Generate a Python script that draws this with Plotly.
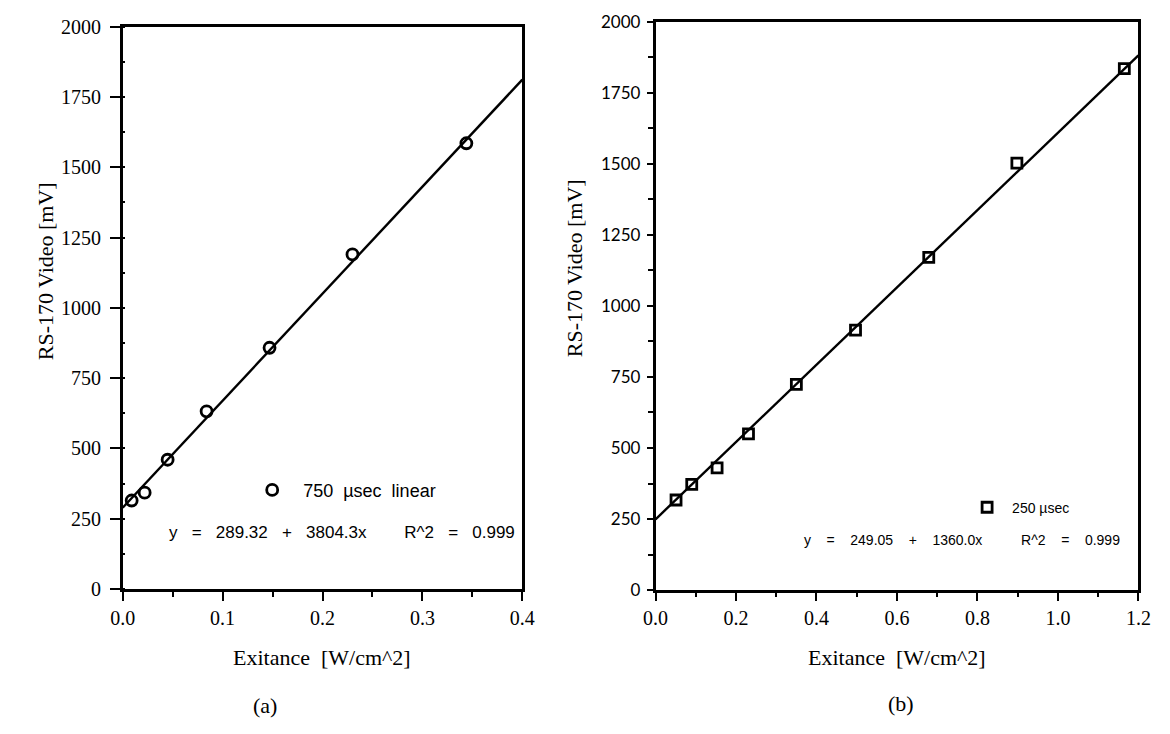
import plotly.graph_objects as go

W, H = 1170, 734

# ---------------- data ----------------
a_x = [0.009, 0.022, 0.045, 0.084, 0.147, 0.230, 0.344]
a_y = [315, 343, 460, 632, 858, 1190, 1585]
a_fit = (289.32, 3804.3)
a_xrange = [0.0, 0.4]
a_legend = "750  µsec  linear"
a_eq = "y   =   289.32   +   3804.3x        R^2   =   0.999"

b_x = [0.051, 0.090, 0.153, 0.231, 0.350, 0.497, 0.679, 0.898, 1.165]
b_y = [317, 372, 430, 550, 724, 915, 1171, 1502, 1835]
b_fit = (249.05, 1360.0)
b_xrange = [0.0, 1.2]
b_legend = "250 µsec"
b_eq = "y    =    249.05    +    1360.0x          R^2    =    0.999"

y_range = [0, 2000]
x_title = "Exitance  [W/cm^2]"
y_title = "RS-170 Video [mV]"
captions = ["(a)", "(b)"]


def px(x):
    return x / W


def py(y):
    return 1 - y / H


SERIF = "Liberation Serif, Times New Roman, serif"
SANS = "Liberation Sans, Arial, sans-serif"

fig = go.Figure()

# panel a
fig.add_trace(go.Scatter(
    x=a_xrange, y=[a_fit[0] + a_fit[1] * v for v in a_xrange],
    mode="lines", line=dict(color="black", width=2.4),
    showlegend=False, xaxis="x", yaxis="y"))
fig.add_trace(go.Scatter(
    x=a_x, y=a_y, mode="markers", name=a_legend,
    marker=dict(symbol="circle-open", size=11, color="black", line=dict(width=2.8)),
    xaxis="x", yaxis="y", legend="legend"))

# panel b
fig.add_trace(go.Scatter(
    x=b_xrange, y=[b_fit[0] + b_fit[1] * v for v in b_xrange],
    mode="lines", line=dict(color="black", width=2.4),
    showlegend=False, xaxis="x2", yaxis="y2"))
fig.add_trace(go.Scatter(
    x=b_x, y=b_y, mode="markers", name=b_legend,
    marker=dict(symbol="square-open", size=10, color="black", line=dict(width=2.8)),
    xaxis="x2", yaxis="y2", legend="legend2"))

axis_common = dict(showline=True, linecolor="black", linewidth=2.5, mirror=True,
                   showgrid=False, zeroline=False, ticks="outside", tickcolor="black",
                   tickwidth=2, ticklen=8)

fig.update_layout(
    width=W, height=H,
    margin=dict(l=0, r=0, t=0, b=0),
    paper_bgcolor="white", plot_bgcolor="white",
    xaxis=dict(axis_common, domain=[px(113), px(521)], range=a_xrange, dtick=0.1,
               tickformat=".1f", anchor="y", ticklen=9,
               tickfont=dict(family=SERIF, size=20, color="black"),
               minor=dict(dtick=0.05, ticks="outside", ticklen=5, tickwidth=2, tickcolor="black")),
    yaxis=dict(axis_common, domain=[py(596), py(16)], range=y_range, dtick=250, anchor="x",
               ticklen=10, ticklabelstandoff=5,
               tickfont=dict(family=SERIF, size=20, color="black"),
               minor=dict(dtick=125, ticks="inside", ticklen=3, tickwidth=2, tickcolor="black")),
    xaxis2=dict(axis_common, domain=[px(657), px(1150)], range=b_xrange, dtick=0.2,
                tickformat=".1f", anchor="y2",
                tickfont=dict(family=SERIF, size=20, color="black"),
                minor=dict(dtick=0.1, ticks="outside", ticklen=4, tickwidth=2, tickcolor="black")),
    yaxis2=dict(axis_common, domain=[py(597), py(11)], range=y_range, dtick=250, anchor="x2",
                ticklen=6, ticklabelstandoff=3,
                tickfont=dict(family="Lato, Open Sans, sans-serif", size=17, color="black"),
                minor=dict(dtick=125, ticks="outside", ticklen=5, tickwidth=2, tickcolor="black")),
    legend=dict(x=px(234), y=py(494), xanchor="left", yanchor="middle", itemwidth=52,
                bgcolor="rgba(0,0,0,0)", borderwidth=0,
                font=dict(family=SANS, size=18, color="black")),
    legend2=dict(x=px(970), y=py(512), xanchor="left", yanchor="middle", itemwidth=40,
                 bgcolor="rgba(0,0,0,0)", borderwidth=0,
                 font=dict(family=SANS, size=14, color="black")),
)

annotations = [
    dict(text=a_eq, x=px(158), y=py(538), xanchor="left", yanchor="middle",
         font=dict(family=SANS, size=17, color="black")),
    dict(text=b_eq, x=px(807), y=py(545), xanchor="left", yanchor="middle",
         font=dict(family=SANS, size=14, color="black")),
    dict(text=x_title, x=px(317), y=py(666), xanchor="center", yanchor="middle",
         font=dict(family=SERIF, size=22, color="black")),
    dict(text=x_title, x=px(904), y=py(666), xanchor="center", yanchor="middle",
         font=dict(family=SERIF, size=22, color="black")),
    dict(text=y_title, x=px(35), y=py(268), xanchor="center", yanchor="middle", textangle=-90,
         font=dict(family=SERIF, size=22, color="black")),
    dict(text=y_title, x=px(574), y=py(265), xanchor="center", yanchor="middle", textangle=-90,
         font=dict(family=SERIF, size=22, color="black")),
    dict(text=captions[0], x=px(258), y=py(716), xanchor="center", yanchor="middle",
         font=dict(family=SERIF, size=22, color="black")),
    dict(text=captions[1], x=px(908), y=py(714), xanchor="center", yanchor="middle",
         font=dict(family=SERIF, size=22, color="black")),
]
for a in annotations:
    a.update(xref="paper", yref="paper", showarrow=False)
fig.update_layout(annotations=annotations)

fig.write_html("out.html")
